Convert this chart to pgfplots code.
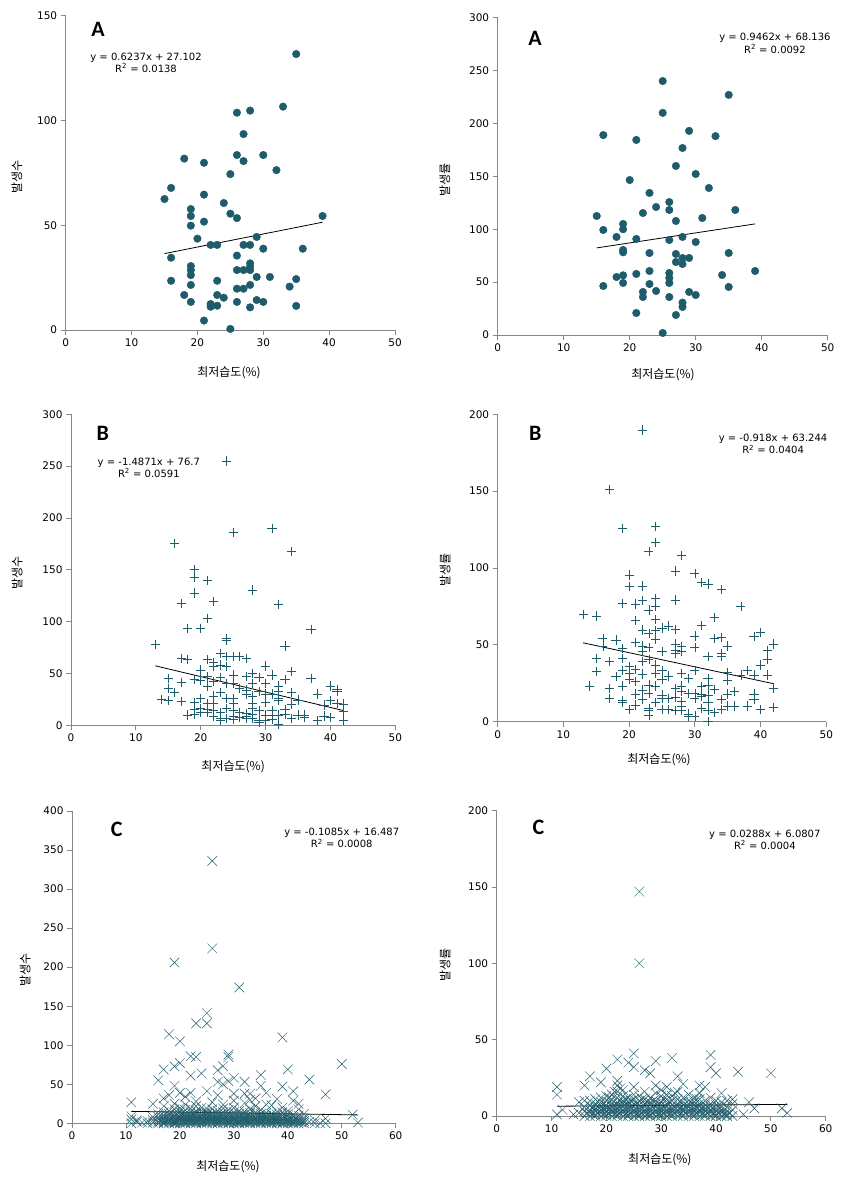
\documentclass[border=0pt]{standalone}
\usepackage{fontspec}
\setmainfont{DejaVu Sans}
\newfontfamily\kr{Noto Sans CJK KR}
\newfontfamily\carl{Carlito}
\usepackage{pgfplots}
\pgfplotsset{compat=1.18}
\definecolor{mk}{HTML}{1F5C6B}
\definecolor{axgray}{RGB}{134,134,134}
\pgfplotsset{
  base/.style={
    scale only axis, clip=false,
    axis x line*=bottom, axis y line*=left,
    axis line style={-, draw=axgray, line width=0.8pt},
    tick style={draw=axgray, line width=0.8pt},
    major tick length=5pt, tick align=outside,
    xmin=0, ymin=0,
    ticklabel style={font=\fontsize{10.5}{12}\selectfont},
    /pgf/number format/assume math mode=true,
    x label style={font=\kr\fontsize{12}{14}\selectfont, anchor=center},
    y label style={font=\kr\fontsize{12}{14}\selectfont, anchor=center},
  },
  trend/.style={black, line width=0.8pt, no marks},
  dots/.style={only marks, mark=*, mark size=3.8pt, mark options={fill=mk, draw=mk}},
  plus/.style={only marks, mark=+, mark size=4.6pt, mark options={draw=mk, line width=0.7pt}},
  cross/.style={only marks, mark=x, mark size=6.8pt, mark options={draw=mk, line width=0.45pt}},
}
\newcommand{\eqnode}[2]{\fontsize{10}{12}\selectfont\begin{tabular}{c}#1\\#2\end{tabular}}
\begin{document}
\begin{tikzpicture}
\path[use as bounding box] (0,0) rectangle (858pt,1180pt);

% ---------- Panel 1 ----------
\begin{axis}[base, at={(65.7pt,850pt)}, anchor=south west,
  width=329.3pt, height=314.3pt, xmax=50, ymax=150,
  xtick={0,10,...,50}, ytick={0,50,100,150},
  xlabel={최저습도(\%)}, ylabel={발생수},
  xlabel style={at={(axis description cs:0.496,-0.137)}},
  ylabel style={at={(axis description cs:-0.148,0.487)}}]
\addplot[dots] coordinates {(35,131.7)(33,106.6)(26,103.7)(28,104.7)(27,93.5)(18,81.8)(21,79.8)(26,83.5)(27,80.6)(30,83.5)(32,76.3)(25,74.4)(16,67.8)(15,62.5)(21,64.6)(24,60.6)(19,57.7)(19,54.4)(25,55.5)(26,53.4)(21,51.7)(39,54.4)(19,49.8)(20,43.6)(29,44.4)(22,40.6)(23,40.6)(27,40.6)(28,40.6)(30,38.8)(36,38.8)(16,34.5)(26,35.5)(19,30.5)(19,28.6)(19,26.2)(26,28.6)(27,28.6)(28,31.8)(28,30.2)(28,28.6)(29,25.3)(31,25.3)(35,24.3)(16,23.5)(23,23.5)(19,21.5)(28,21.5)(26,19.7)(27,19.7)(34,20.7)(18,16.7)(23,16.7)(24,15.4)(19,13.4)(26,13.4)(29,14.3)(30,13.4)(22,12.4)(22,11.1)(23,11.6)(28,10.8)(35,11.5)(21,4.5)(25,0.5)};
\addplot[trend] coordinates {(15,36.46)(39,51.43)};
\node[font=\carl\bfseries\fontsize{22}{24}\selectfont] at (axis cs:4.9,143.7) {A};
\node at (axis cs:12.2,127) {\eqnode{y = 0.6237x + 27.102}{R\textsuperscript{2} = 0.0138}};
\end{axis}

% ---------- Panel 2 ----------
\begin{axis}[base, at={(497.7pt,845pt)}, anchor=south west,
  width=330pt, height=317.3pt, xmax=50, ymax=300,
  xtick={0,10,...,50}, ytick={0,50,...,300},
  xlabel={최저습도(\%)}, ylabel={발생률},
  xlabel style={at={(axis description cs:0.501,-0.126)}},
  ylabel style={at={(axis description cs:-0.160,0.488)}}]
\addplot[dots] coordinates {(25,240.1)(35,227)(25,210)(16,189)(21,184.4)(29,193)(33,188)(28,176.8)(27,159.8)(30,152.2)(20,146.5)(32,139)(23,134.3)(26,125.7)(24,121)(26,118.2)(36,118.2)(22,115.3)(15,112.5)(31,110.6)(27,107.8)(19,105)(19,100)(16,99.3)(18,92.7)(28,92.7)(21,90.8)(26,89.8)(30,87.9)(19,80.4)(19,78.2)(23,77.5)(35,77.5)(27,76.6)(28,72.8)(29,72.8)(27,69)(28,67.1)(23,60.5)(26,58.6)(39,60.5)(21,57.7)(19,56.4)(18,54.8)(26,53.9)(34,56.7)(26,49.2)(19,49.2)(23,48.2)(16,46.3)(35,45.4)(22,40.7)(24,41.6)(29,40.7)(30,37.8)(22,35.9)(26,35.9)(28,30.6)(28,26.5)(21,20.8)(27,18.9)(25,1.9)};
\addplot[trend] coordinates {(15,82.33)(39,105.04)};
\node[font=\carl\bfseries\fontsize{22}{24}\selectfont] at (axis cs:5.65,280.8) {A};
\node at (axis cs:42,274.6) {\eqnode{y = 0.9462x + 68.136}{R\textsuperscript{2} = 0.0092}};
\end{axis}

% ---------- Panel 3 ----------
\begin{axis}[base, at={(71pt,454.7pt)}, anchor=south west,
  width=324.3pt, height=311pt, xmax=50, ymax=300,
  xtick={0,10,...,50}, ytick={0,50,...,300},
  xlabel={최저습도(\%)}, ylabel={발생수},
  xlabel style={at={(axis description cs:0.5,-0.134)}},
  ylabel style={at={(axis description cs:-0.166,0.49)}}]
\addplot[plus] coordinates {(24,255)(31,190)(25,186)(16,175.6)(34,167.5)(19,150)(19,142.8)(21,139.5)(28,130.5)(19,127.7)(17,117.7)(22,119.6)(32,116.7)(21,103.2)(18,93.6)(20,93.6)(37,92.6)(24,84)(24,81.7)(13,78.1)(33,76.5)(23,69.5)(24,66.2)(25,66.2)(26,66.2)(27,64.6)(17,64.6)(18,63.7)(21,63.7)(22,60.5)(23,58.2)(22,56.6)(24,56.6)(30,57.2)(20,53.4)(34,51.8)(28,50.2)(25,48.6)(31,48.6)(21,46.9)(23,46.3)(29,46.3)(37,45.3)(15,45.3)(19,44.4)(20,43.7)(27,46.9)(33,44.4)(22,42.1)(28,40.5)(17,41.2)(24,40.5)(25,40.5)(30,40.5)(21,37.9)(32,37.9)(40,37.9)(15,35.7)(26,35.7)(27,34.1)(41,34.7)(41,32.5)(23,31.5)(29,32.5)(16,31.5)(32,32.5)(34,31.5)(38,30.2)(27,30.2)(30,30.2)(31,30.2)(22,28.3)(28,28.3)(24,26)(25,26)(32,26)(14,25.1)(20,26)(15,23.8)(32,24.4)(35,24.4)(17,22.8)(40,23.8)(21,21.2)(19,21.9)(22,21.2)(25,21.2)(28,21.2)(30,21.9)(41,21.2)(42,20.6)(34,20.6)(39,19.6)(20,16.4)(19,15.4)(21,15.4)(24,16.4)(28,16.4)(33,15.4)(22,14.1)(25,14.1)(29,14.1)(31,14.1)(21,12.2)(23,12.2)(26,12.2)(27,11.6)(42,13.2)(18,10)(19,10.9)(20,12.2)(28,10.9)(30,10)(31,10)(32,10)(33,10.9)(35,10)(36,10)(22,9)(25,9)(39,9)(40,7.7)(24,6.8)(23,6.8)(26,7.7)(27,6.8)(34,6.8)(36,7.7)(29,5.1)(38,4.5)(42,4.5)(23,4.5)(31,5.8)(29,2.6)(32,1.3)(25,5.8)(27,9)(28,6.8)(30,4.5)};
\addplot[trend] coordinates {(13,57.37)(42,14.24)};
\node[font=\carl\bfseries\fontsize{22}{24}\selectfont] at (axis cs:4.9,282) {B};
\node at (axis cs:12,247.3) {\eqnode{y = -1.4871x + 76.7}{R\textsuperscript{2} = 0.0591}};
\end{axis}

% ---------- Panel 4 ----------
\begin{axis}[base, at={(497.7pt,458.3pt)}, anchor=south west,
  width=328.6pt, height=307.4pt, xmax=50, ymax=200,
  xtick={0,10,...,50}, ytick={0,50,...,200},
  xlabel={최저습도(\%)}, ylabel={발생률},
  xlabel style={at={(axis description cs:0.491,-0.125)}},
  ylabel style={at={(axis description cs:-0.160,0.493)}}]
\addplot[plus] coordinates {(22,189.8)(17,151.2)(19,125.8)(24,126.9)(24,116.7)(23,110.8)(28,108)(27,98)(20,95.4)(30,96.5)(31,90.5)(32,89.6)(20,87.9)(22,88.3)(34,86.1)(24,80.3)(19,77)(21,76.6)(22,78.7)(27,79.2)(24,74.8)(37,74.8)(23,72.7)(13,69.8)(15,68.8)(33,67.9)(24,66.6)(21,65.7)(31,62.7)(25,61)(26,62.3)(27,60.1)(22,59.7)(23,57.5)(24,59.2)(40,57.9)(39,55.3)(33,54.2)(34,54.9)(16,54.2)(18,53.1)(24,53.6)(21,51.6)(30,55.7)(27,50.5)(42,50.5)(22,49.2)(16,48.8)(35,49.2)(19,47.7)(23,48.2)(28,48.8)(30,48.4)(27,46.6)(25,45.6)(41,46.2)(28,45.6)(34,44.5)(27,44.5)(22,45.6)(34,42.7)(32,42.3)(15,41.2)(19,41.2)(23,40.6)(41,40.6)(17,39)(22,39)(24,36.9)(20,35.8)(40,36.9)(21,34.1)(25,33.2)(15,32.5)(19,33.2)(30,33.2)(38,33.2)(35,31.9)(28,31.5)(20,31.5)(22,31)(24,31.5)(26,29.7)(37,30.4)(39,30.4)(41,30.4)(18,29.3)(29,28.2)(32,28.2)(25,27.5)(20,27.5)(21,26)(35,26.7)(23,23.9)(14,23.2)(24,23.2)(32,23.9)(17,21.7)(27,21.7)(28,23.2)(31,22.8)(42,21.7)(19,23.2)(33,21)(22,20.6)(28,19.5)(36,19.5)(29,18.4)(30,18.4)(21,18)(23,18.4)(31,18)(35,18)(39,18)(25,17.4)(32,17.4)(17,15.2)(22,14.5)(25,15.2)(26,15.2)(27,15.8)(30,15.2)(31,16.3)(34,14.5)(39,14.5)(19,13.7)(19,12.4)(24,12.4)(28,13)(32,12.4)(21,10.8)(35,10.2)(36,10.2)(38,10.2)(42,9.3)(28,9.8)(23,8.7)(25,8)(31,8.7)(20,8)(26,8)(34,8)(40,8)(27,7.2)(28,7.2)(32,7.2)(23,7.2)(33,5.9)(23,4.3)(29,5)(29,3.3)(30,3.7)(32,0)};
\addplot[trend] coordinates {(13,51.31)(42,24.69)};
\node[font=\carl\bfseries\fontsize{22}{24}\selectfont] at (axis cs:5.7,187.8) {B};
\node at (axis cs:41.9,180) {\eqnode{y = -0.918x + 63.244}{R\textsuperscript{2} = 0.0404}};
\end{axis}

% ---------- Panel 5 ----------
\begin{axis}[base, at={(72pt,56.7pt)}, anchor=south west,
  width=323.7pt, height=312.3pt, xmax=60, ymax=400,
  xtick={0,10,...,60}, ytick={0,50,...,400},
  xlabel={최저습도(\%)}, ylabel={발생수},
  xlabel style={at={(axis description cs:0.482,-0.14)}},
  ylabel style={at={(axis description cs:-0.145,0.491)}}]
\addplot[cross] coordinates {
(11,0)(11,5)(11,9)(11,27)(12,2)(12,4)(13,1)(14,0)(14,3)
(15,1)(15,4)(15,8)(15,25)
(16,0)(16,2)(16,5)(16,8)(16,12)(16,55)
(17,0)(17,1)(17,3)(17,5)(17,7)(17,10)(17,14)(17,22)(17,32)(17,69)
(18,0)(18,2)(18,4)(18,6)(18,9)(18,12)(18,16)(18,36)(18,114)
(19,0)(19,1)(19,3)(19,5)(19,7)(19,10)(19,13)(19,18)(19,25)(19,48)(19,73)(19,206)
(20,0)(20,2)(20,4)(20,6)(20,8)(20,11)(20,15)(20,20)(20,39)(20,77)(20,105)
(21,0)(21,1)(21,3)(21,5)(21,7)(21,9)(21,12)(21,17)(21,24)(21,34)
(22,0)(22,2)(22,4)(22,6)(22,8)(22,10)(22,14)(22,19)(22,39)(22,61)(22,86)
(23,0)(23,1)(23,3)(23,5)(23,7)(23,9)(23,12)(23,16)(23,22)(23,28)(23,85)(23,128)
(24,0)(24,2)(24,4)(24,6)(24,8)(24,11)(24,14)(24,20)(24,64)
(25,0)(25,1)(25,3)(25,5)(25,7)(25,9)(25,12)(25,15)(25,19)(25,41)(25,128)(25,141)
(26,0)(26,2)(26,4)(26,6)(26,8)(26,10)(26,13)(26,18)(26,27)(26,224)(26,336)
(27,0)(27,1)(27,3)(27,5)(27,7)(27,9)(27,12)(27,16)(27,36)(27,53)(27,68)
(28,0)(28,2)(28,4)(28,6)(28,8)(28,11)(28,14)(28,19)(28,24)(28,50)(28,73)
(29,0)(29,1)(29,3)(29,5)(29,7)(29,10)(29,13)(29,17)(29,54)(29,85)(29,88)
(30,0)(30,2)(30,4)(30,6)(30,8)(30,10)(30,14)(30,20)(30,29)(30,38)(30,58)
(31,0)(31,1)(31,3)(31,5)(31,7)(31,9)(31,12)(31,16)(31,174)
(32,0)(32,2)(32,4)(32,6)(32,8)(32,11)(32,15)(32,26)(32,38)(32,53)
(33,0)(33,1)(33,3)(33,5)(33,7)(33,10)(33,13)(33,18)(33,30)(33,38)
(34,0)(34,2)(34,4)(34,6)(34,8)(34,11)(34,14)(34,22)(34,32)
(35,0)(35,1)(35,3)(35,5)(35,7)(35,9)(35,12)(35,17)(35,48)(35,62)
(36,0)(36,2)(36,4)(36,6)(36,8)(36,10)(36,13)(36,24)(36,39)
(37,0)(37,1)(37,3)(37,5)(37,7)(37,9)(37,12)(37,23)
(38,0)(38,2)(38,4)(38,6)(38,8)(38,11)(38,15)(38,31)
(39,0)(39,1)(39,3)(39,5)(39,7)(39,10)(39,14)(39,20)(39,47)(39,110)
(40,0)(40,2)(40,4)(40,6)(40,9)(40,12)(40,16)(40,69)
(41,0)(41,1)(41,3)(41,5)(41,8)(41,11)(41,29)(41,41)
(42,0)(42,2)(42,4)(42,7)(42,10)(42,18)(42,25)
(43,0)(43,3)(43,6)(43,12)
(44,2)(44,56)(45,0)(45,4)(46,0)(47,0)(47,6)(47,37)(50,76)(52,11)(53,1)
(16.5,3)(17.5,2)(17.5,6)(18.5,1)(18.5,5)(18.5,9)(19.5,2)(19.5,6)(19.5,11)(20.5,1)(20.5,4)(20.5,8)(20.5,13)(21.5,2)(21.5,6)(21.5,10)(22.5,1)(22.5,4)(22.5,8)(22.5,12)(23.5,2)(23.5,6)(23.5,10)(24.5,1)(24.5,4)(24.5,8)(24.5,13)(25.5,2)(25.5,6)(25.5,10)(26.5,1)(26.5,5)(26.5,9)(27.5,2)(27.5,6)(27.5,11)(28.5,1)(28.5,4)(28.5,8)(29.5,2)(29.5,6)(29.5,10)(30.5,1)(30.5,4)(30.5,9)(31.5,2)(31.5,6)(31.5,11)(32.5,1)(32.5,5)(32.5,9)(33.5,2)(33.5,6)(34.5,1)(34.5,4)(34.5,8)(35.5,2)(35.5,6)(35.5,10)(36.5,1)(36.5,5)(37.5,2)(37.5,6)(37.5,9)(38.5,1)(38.5,4)(39.5,2)(39.5,7)(40.5,1)(40.5,5)(41.5,2)(41.5,6)(42.5,1)(42.5,4)};
\addplot[trend] coordinates {(11,15.29)(53,10.74)};
\node[font=\carl\bfseries\fontsize{22}{24}\selectfont] at (axis cs:8.3,377) {C};
\node at (axis cs:50,364) {\eqnode{y = -0.1085x + 16.487}{R\textsuperscript{2} = 0.0008}};
\end{axis}

% ---------- Panel 6 ----------
\begin{axis}[base, at={(496.7pt,64pt)}, anchor=south west,
  width=329pt, height=305.3pt, xmax=60, ymax=200,
  xtick={0,10,...,60}, ytick={0,50,...,200},
  xlabel={최저습도(\%)}, ylabel={발생률},
  xlabel style={at={(axis description cs:0.496,-0.144)}},
  ylabel style={at={(axis description cs:-0.157,0.495)}}]
\addplot[cross] coordinates {
(11,1)(11,14)(11,19)(12,4)(14,1)(15,2)(15,9)
(16,0)(16,3)(16,6)(16,10)(16,20)
(17,0)(17,2)(17,4)(17,7)(17,10)(17,26)
(18,0)(18,1)(18,3)(18,5)(18,8)(18,11)
(19,0)(19,2)(19,4)(19,6)(19,9)(19,12)(19,22)
(20,0)(20,1)(20,3)(20,5)(20,7)(20,10)(20,13)(20,31)
(21,0)(21,2)(21,4)(21,6)(21,8)(21,11)(21,14)
(22,0)(22,1)(22,3)(22,5)(22,7)(22,9)(22,12)(22,16)(22,20)(22,23)(22,37)
(23,0)(23,2)(23,4)(23,6)(23,8)(23,10)(23,13)(23,17)
(24,0)(24,1)(24,3)(24,5)(24,7)(24,9)(24,12)(24,35)
(25,0)(25,2)(25,4)(25,6)(25,8)(25,11)(25,14)(25,19)(25,32)(25,41)
(26,0)(26,1)(26,3)(26,5)(26,7)(26,10)(26,13)(26,100)(26,147)
(27,0)(27,2)(27,4)(27,6)(27,8)(27,11)(27,16)(27,30)
(28,0)(28,1)(28,3)(28,5)(28,7)(28,9)(28,12)(28,28)
(29,0)(29,2)(29,4)(29,6)(29,8)(29,10)(29,15)(29,20)(29,36)
(30,0)(30,1)(30,3)(30,5)(30,7)(30,9)(30,13)(30,17)
(31,0)(31,2)(31,4)(31,6)(31,8)(31,11)(31,14)(31,19)
(32,0)(32,1)(32,3)(32,5)(32,7)(32,10)(32,13)(32,38)
(33,0)(33,2)(33,4)(33,6)(33,8)(33,11)(33,16)(33,26)
(34,0)(34,1)(34,3)(34,5)(34,7)(34,9)(34,12)(34,21)
(35,0)(35,2)(35,4)(35,6)(35,8)(35,10)(35,14)
(36,0)(36,1)(36,3)(36,5)(36,7)(36,9)(36,12)
(37,0)(37,2)(37,4)(37,6)(37,8)(37,11)(37,15)(37,20)
(38,0)(38,1)(38,3)(38,5)(38,7)(38,10)(38,19)
(39,0)(39,2)(39,4)(39,6)(39,8)(39,12)(39,32)(39,40)
(40,0)(40,1)(40,3)(40,5)(40,7)(40,10)(40,28)
(41,0)(41,2)(41,4)(41,6)(41,9)(41,15)
(42,0)(42,1)(42,3)(42,6)(42,10)
(43,0)(43,4)(43,8)(43,11)
(44,29)(45,1)(46,9)(47,5)(50,28)(52,5)(53,2)
(16.5,2)(17.5,1)(17.5,5)(18.5,2)(18.5,6)(18.5,9)(19.5,1)(19.5,4)(19.5,8)(20.5,2)(20.5,5)(20.5,9)(20.5,12)(21.5,1)(21.5,4)(21.5,7)(21.5,16)(22.5,2)(22.5,6)(22.5,10)(22.5,18)(23.5,1)(23.5,4)(23.5,8)(23.5,11)(24.5,2)(24.5,6)(24.5,10)(25.5,1)(25.5,4)(25.5,8)(26.5,2)(26.5,6)(26.5,11)(27.5,1)(27.5,4)(27.5,9)(28.5,2)(28.5,6)(28.5,10)(29.5,1)(29.5,4)(29.5,8)(30.5,2)(30.5,6)(30.5,11)(31.5,1)(31.5,4)(31.5,9)(32.5,2)(32.5,6)(32.5,15)(33.5,1)(33.5,5)(33.5,9)(34.5,2)(34.5,6)(35.5,1)(35.5,4)(35.5,9)(36.5,2)(36.5,6)(36.5,11)(37.5,1)(37.5,5)(38.5,2)(38.5,6)(39.5,1)(39.5,5)(40.5,2)(40.5,6)(41.5,1)(41.5,4)(42.5,2)};
\addplot[trend] coordinates {(11,6.40)(53,7.61)};
\node[font=\carl\bfseries\fontsize{22}{24}\selectfont] at (axis cs:7.6,189.3) {C};
\node at (axis cs:48.9,180.2) {\eqnode{y = 0.0288x + 6.0807}{R\textsuperscript{2} = 0.0004}};
\end{axis}
\end{tikzpicture}
\end{document}
